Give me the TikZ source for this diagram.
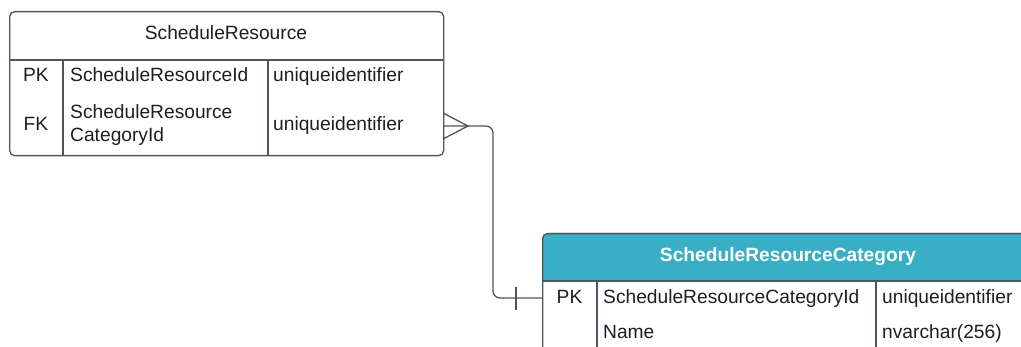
\documentclass[tikz,border=0pt]{standalone}
\usepackage{fontspec}
\setmainfont{Liberation Sans}
\definecolor{linec}{RGB}{78,84,96}
\definecolor{txt}{RGB}{30,30,30}
\definecolor{hdr}{RGB}{57,175,198}
\tikzset{
  tbl/.style={draw=linec, line width=1.3pt, rounded corners=5pt, inner sep=0pt, anchor=north west},
  sep/.style={draw=linec, line width=1.3pt},
  conn/.style={draw=linec, line width=1.3pt},
  cell/.style={text=txt, inner sep=0pt, anchor=base, font=\fontsize{19.2}{23}\selectfont},
  lcell/.style={cell, anchor=base west, align=left},
}
\begin{document}
\begin{tikzpicture}[x=1pt,y=-1pt]
\useasboundingbox (0,0) rectangle (1021,347);
\clip (0,0) rectangle (1021,347);
% table 1
\node[tbl, minimum width=434pt, minimum height=144pt] (t1) at (9,11) {};
\draw[sep] (9,60) -- (443,60);
\draw[sep] (63,60) -- (63,155);
\draw[sep] (268,60) -- (268,155);
\node[cell] (t1title) at (226,40) {ScheduleResource};
\node[cell] (t1pk) at (36,82) {PK};
\node[lcell] (t1n1) at (70,82) {ScheduleResourceId};
\node[lcell] (t1ty1) at (273,82) {uniqueidentifier};
\node[cell] (t1fk) at (36,131) {FK};
\node[lcell, anchor=west] (t1n2) at (70,125) {ScheduleResource\\CategoryId};
\node[lcell] (t1ty2) at (273,131) {uniqueidentifier};
% table 2
\fill[hdr] (542,281) [rounded corners=5pt]-- (542,233) -- (1060,233) [sharp corners]-- (1060,281) -- cycle;
\node[tbl, minimum width=518pt, minimum height=150pt] (t2) at (542,233) {};
\draw[sep] (542,281) -- (1060,281);
\draw[sep] (597,281) -- (597,380);
\draw[sep] (876,281) -- (876,380);
\node[cell, text=white, font=\bfseries\fontsize{19.2}{23}\selectfont] (t2title) at (788,262) {ScheduleResourceCategory};
\node[cell] (t2pk) at (569.5,303.5) {PK};
\node[lcell] (t2n1) at (603,303.5) {ScheduleResourceCategoryId};
\node[lcell] (t2ty1) at (882,303.5) {uniqueidentifier};
\node[lcell] (t2n2) at (603,338.5) {Name};
\node[lcell] (t2ty2) at (882,338.5) {nvarchar(256)};
% connector
\coordinate (fkend) at (443,126);
\coordinate (pkend) at (542,298);
\draw[conn, rounded corners=7pt] (fkend) -- ++(50,0) |- (pkend);
\draw[conn] (443,113) -- (468,126) -- (443,139);
\draw[conn] (516,287) -- (516,310);
\end{tikzpicture}
\end{document}
